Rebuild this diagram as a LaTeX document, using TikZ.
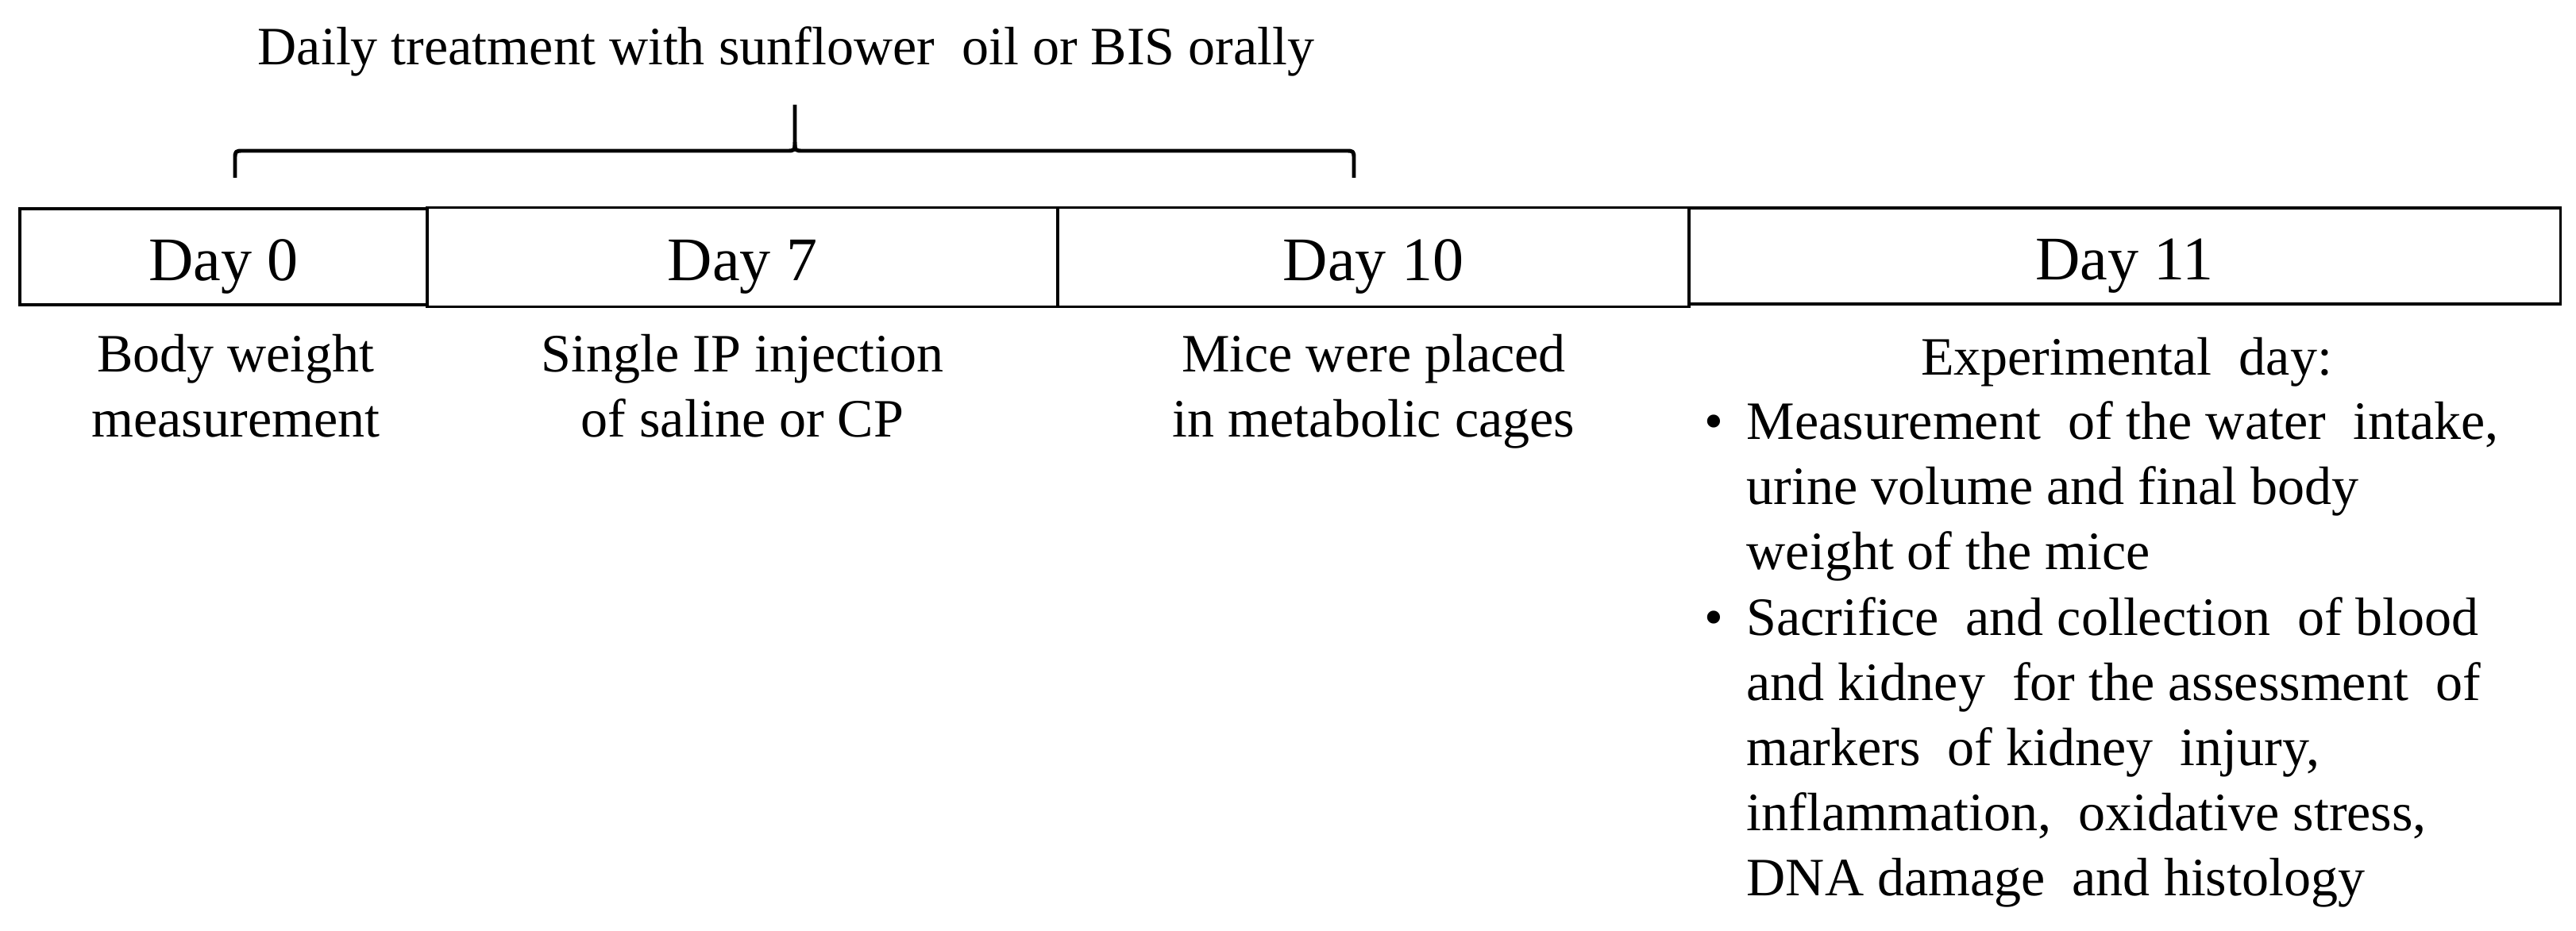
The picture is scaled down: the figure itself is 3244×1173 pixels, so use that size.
\documentclass[tikz,border=0pt]{standalone}
\usepackage{fontspec}
\setmainfont{Liberation Serif}
\begin{document}
\begin{tikzpicture}[x=0.01cm,y=-0.01cm,
  daybox/.style={draw, line width=1pt, inner sep=0pt, font=\fontsize{22.2}{26}\selectfont, text height=0.62cm, text depth=0.03cm},
  lbl/.style={anchor=north, align=center, inner sep=0pt, font=\fontsize{19.35}{23.35}\selectfont},
  listtext/.style={anchor=north west, inner sep=0pt, font=\fontsize{19.35}{23.35}\selectfont},
  brace/.style={line width=1.4pt, line cap=butt, line join=round}]
\useasboundingbox (0,0) rectangle (3244,1173);

% title and brace
\node[anchor=base, inner sep=0pt, font=\fontsize{19.35}{23.35}\selectfont] (title) at (990,82) {Daily treatment with sunflower\ \ oil or BIS orally};
\coordinate (tip) at (1001,132);
\draw[brace] (296,224) -- (296,201) .. controls (296,190) .. (307,190) -- (990,190) .. controls (1001,190) .. (1001,179) -- (tip);
\draw[brace] (1001,179) .. controls (1001,190) .. (1012,190) -- (1694,190) .. controls (1705,190) .. (1705,201) -- (1705,224);

% day boxes
\node[daybox, minimum width=5.13cm, minimum height=1.21cm] (d0) at (281.5,323.5) {Day 0};
\node[daybox, minimum width=10.97cm, minimum height=1.21cm] (d11) at (2675.5,322.5) {Day 11};
\node[daybox, minimum width=7.94cm, minimum height=1.25cm] (d7) at (935,324) {Day 7};
\node[daybox, minimum width=7.95cm, minimum height=1.25cm] (d10) at (1729.5,324) {Day 10};

% labels
\node[lbl] (l0) at (297,408) {\rule{0pt}{0.6cm}Body weight\\measurement};
\node[lbl] (l7) at (935,408) {\rule{0pt}{0.6cm}Single IP injection\\of saline or CP};
\node[lbl] (l10) at (1730,408) {\rule{0pt}{0.6cm}Mice were placed\\in metabolic cages};
\node[lbl] (l11) at (2678,412) {\rule{0pt}{0.6cm}Experimental\ \ day:};
\node[listtext] (list) at (2146,495.5) {\begin{tabular}{@{}p{0.53cm}@{}l@{}}
\textbullet & Measurement\ \ of the water\ \ intake,\\
 & urine volume and final body\\
 & weight of the mice\\
\textbullet & Sacrifice\ \ and collection\ \ of blood\\
 & and kidney\ \ for the assessment\ \ of\\
 & markers\ \ of kidney\ \ injury,\\
 & inflammation,\ \ oxidative stress,\\
 & DNA damage\ \ and histology
\end{tabular}};
\end{tikzpicture}
\end{document}
